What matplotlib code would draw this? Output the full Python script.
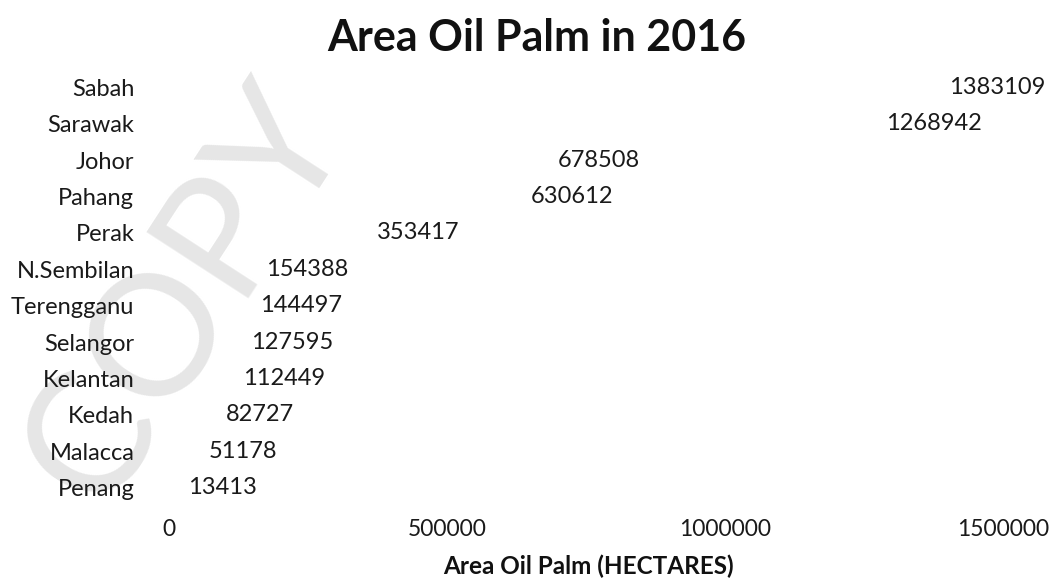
import matplotlib
matplotlib.use("Agg")
import matplotlib.pyplot as plt

states = ["Sabah", "Sarawak", "Johor", "Pahang", "Perak", "N.Sembilan",
          "Terengganu", "Selangor", "Kelantan", "Kedah", "Malacca", "Penang"]
area = [1383109, 1268942, 678508, 630612, 353417, 154388,
        144497, 127595, 112449, 82727, 51178, 13413]
xticks = [0, 500000, 1000000, 1500000]

plt.rcParams['font.family'] = ['Lato', 'DejaVu Sans']

fig = plt.figure(figsize=(10.51, 5.84), dpi=100)
fig.patch.set_facecolor('white')

# faint watermark
fig.text(185/1051, 1-295/584, 'COPY', rotation=57, fontsize=122,
         color='#e6e6e6', ha='center', va='center', zorder=-5)

ax = fig.add_axes([169/1051, 1-506/584, 834/1051, 437/584])
ax.set_zorder(2)
ax.patch.set_visible(False)
ypos = list(range(len(states)))
ax.barh(ypos, area, height=0.6, facecolor='none', edgecolor='none')
ax.set_ylim(len(states)-0.5, -0.5)
ax.set_xlim(0, 1500000)
ax.set_yticks(ypos)
ax.set_yticklabels(states, fontsize=17, color='#1a1a1a')
ax.set_xticks(xticks)
ax.set_xticklabels([str(v) for v in xticks], fontsize=16.5, color='#1a1a1a')
ax.tick_params(axis='both', length=0)
ax.tick_params(axis='y', pad=25)
ax.tick_params(axis='x', pad=9)
for s in ax.spines.values():
    s.set_visible(False)

for y, v in zip(ypos, area):
    ax.annotate(str(v), xy=(v, y), xytext=(8, 0), textcoords='offset points',
                ha='left', va='center', fontsize=17, color='#1a1a1a',
                annotation_clip=False)

fig.text(537/1051, 1-38/584, 'Area Oil Palm in 2016', ha='center', va='center',
         fontsize=31, fontweight='bold', color='#111111', zorder=5)
fig.text(588/1051, 1-566/584, 'Area Oil Palm (HECTARES)', ha='center', va='center',
         fontsize=17.5, fontweight='bold', color='#111111', zorder=5)

fig.savefig('out.png', dpi=100)
